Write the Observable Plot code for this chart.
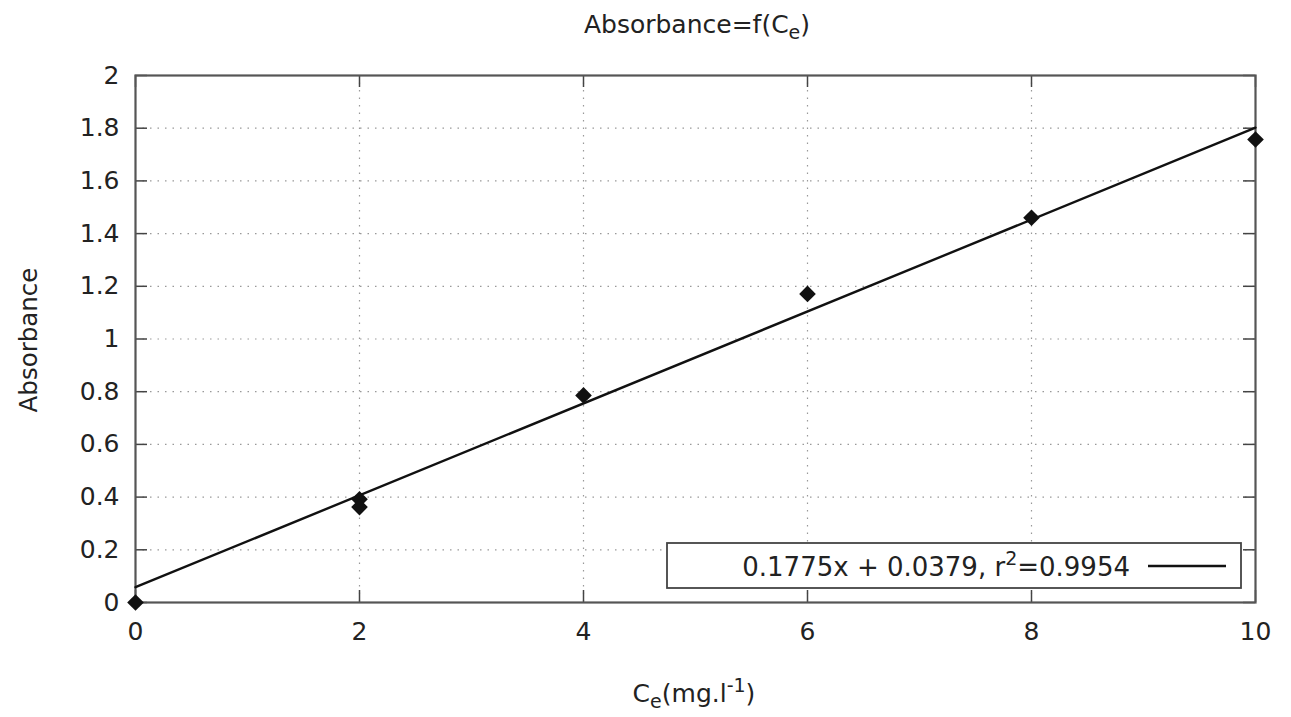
<!DOCTYPE html>
<html>
<head>
<meta charset="utf-8">
<script src="https://cdn.jsdelivr.net/npm/d3@7"></script>
<script src="https://cdn.jsdelivr.net/npm/@observablehq/plot@0.6"></script>
<style>
  html, body { margin: 0; padding: 0; background: #fff; }
  #chart svg { display: block; }
</style>
</head>
<body>
<div id="chart"></div>
<script>
// ---- data ----
const concentrations = [0, 2, 2, 4, 6, 8, 10];
const absorbances   = [0, 0.392, 0.362, 0.786, 1.171, 1.460, 1.757];
const fitX = [0, 10];
const fitY = [0.058, 1.802];
const xTicks = [0, 2, 4, 6, 8, 10];
const yTicks = [0, 0.2, 0.4, 0.6, 0.8, 1, 1.2, 1.4, 1.6, 1.8, 2];
const xTickLabels = ["0", "2", "4", "6", "8", "10"];
const yTickLabels = ["0", "0.2", "0.4", "0.6", "0.8", "1", "1.2", "1.4", "1.6", "1.8", "2"];
const legendLabel = ["0.1775x + 0.0379, r", "2", "=0.9954"];

const points = concentrations.map((c, i) => ({c, a: absorbances[i]}));
const fit = fitX.map((x, i) => ({x, y: fitY[i]}));

const W = 1291, H = 717;
const mL = 135, mR = 36, mT = 75, mB = 115;
const fW = W - mL - mR, fH = H - mT - mB;
const font = "DejaVu Sans, Verdana, sans-serif";
const ink = "#222";
const tick = 12;

const plot = Plot.plot({
  width: W, height: H,
  marginLeft: mL, marginRight: mR, marginTop: mT, marginBottom: mB,
  style: {fontFamily: font, color: ink, background: "#fff"},
  x: {domain: [0, 10]},
  y: {domain: [0, 2]},
  marks: [
    Plot.gridX(xTicks.slice(1, -1), {stroke: "#999", strokeOpacity: 1, strokeWidth: 1.2, strokeDasharray: "1.5,6"}),
    Plot.gridY(yTicks.slice(1, -1), {stroke: "#999", strokeOpacity: 1, strokeWidth: 1.2, strokeDasharray: "1.5,6"}),
    Plot.axisX(xTicks, {tickSize: 0, tickPadding: 20, fontSize: 25, fill: ink,
      tickFormat: d => xTickLabels[xTicks.indexOf(d)], label: null}),
    Plot.axisY(yTicks, {tickSize: 0, tickPadding: 16, fontSize: 25, fill: ink,
      tickFormat: d => yTickLabels[yTicks.indexOf(d)], label: null}),
    // inward ticks, mirrored on all sides
    Plot.tickX(xTicks, {x: d => d, insetTop: fH - tick, stroke: "#444", strokeWidth: 1.5}),
    Plot.tickX(xTicks, {x: d => d, insetBottom: fH - tick, stroke: "#444", strokeWidth: 1.5}),
    Plot.tickY(yTicks, {y: d => d, insetRight: fW - tick, stroke: "#444", strokeWidth: 1.5}),
    Plot.tickY(yTicks, {y: d => d, insetLeft: fW - tick, stroke: "#444", strokeWidth: 1.5}),
    Plot.frame({stroke: "#555", strokeWidth: 2.2}),
    Plot.line(fit, {x: "x", y: "y", stroke: "#111", strokeWidth: 2.4}),
    Plot.dot(points, {x: "c", y: "a", symbol: "diamond2", r: 7.5, fill: "#111", stroke: "none"})
  ]
});

document.getElementById("chart").appendChild(plot);

const svg = d3.select(plot);

// title
const title = svg.append("text")
  .attr("x", 697).attr("y", 33)
  .attr("text-anchor", "middle")
  .attr("font-family", font).attr("font-size", 25).attr("fill", ink);
title.append("tspan").text("Absorbance=f(C");
title.append("tspan").attr("font-size", 19).attr("dy", 6).text("e");
title.append("tspan").attr("dy", -6).text(")");

// x label
const xl = svg.append("text")
  .attr("x", 694).attr("y", 702)
  .attr("text-anchor", "middle")
  .attr("font-family", font).attr("font-size", 25).attr("fill", ink);
xl.append("tspan").text("C");
xl.append("tspan").attr("font-size", 19).attr("dy", 6).text("e");
xl.append("tspan").attr("dy", -6).text("(mg.l");
xl.append("tspan").attr("font-size", 19).attr("dy", -10).text("-1");
xl.append("tspan").attr("dy", 10).text(")");

// y label
svg.append("text")
  .attr("transform", "translate(37,340) rotate(-90)")
  .attr("text-anchor", "middle")
  .attr("font-family", font).attr("font-size", 24.5).attr("fill", ink)
  .text("Absorbance");

// legend
const lg = svg.append("g");
lg.append("rect")
  .attr("x", 667).attr("y", 543).attr("width", 574).attr("height", 45)
  .attr("fill", "#fff").attr("stroke", "#444").attr("stroke-width", 1.8);
const lt = lg.append("text")
  .attr("x", 1130).attr("y", 576)
  .attr("text-anchor", "end")
  .attr("font-family", font).attr("font-size", 26).attr("fill", ink);
lt.append("tspan").text(legendLabel[0]);
lt.append("tspan").attr("font-size", 19).attr("dy", -11).text(legendLabel[1]);
lt.append("tspan").attr("dy", 11).text(legendLabel[2]);
lg.append("line")
  .attr("x1", 1148).attr("x2", 1226).attr("y1", 566).attr("y2", 566)
  .attr("stroke", "#111").attr("stroke-width", 2.4);
</script>
</body>
</html>
